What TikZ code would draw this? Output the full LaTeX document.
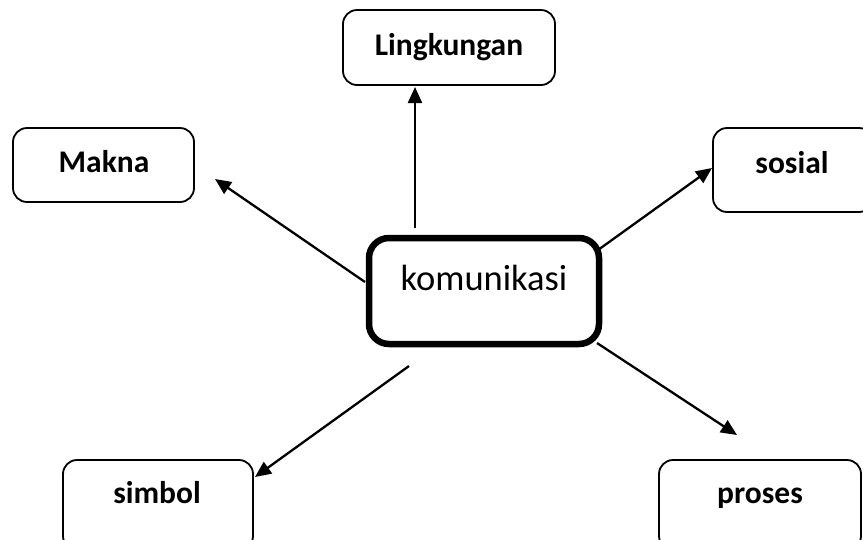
\documentclass[tikz,border=0pt]{standalone}
\usepackage{fontspec}
\setmainfont{Carlito}
\usetikzlibrary{arrows.meta}
\begin{document}
\begin{tikzpicture}[x=1pt,y=-1pt,
  smallbox/.style={draw=black,line width=1.8pt,rounded corners=14pt,inner sep=0pt},
  mainbox/.style={draw=black,line width=6.5pt,rounded corners=20pt,inner sep=0pt},
  lbl/.style={font=\fontsize{31.5}{36}\selectfont\bfseries,inner sep=0pt,anchor=base},
  mainlbl/.style={font=\fontsize{36.5}{42}\selectfont,inner sep=0pt,anchor=base},
  conn/.style={line width=2.3pt,-{Triangle[length=16pt,width=14pt]}}]
\useasboundingbox (0,0) rectangle (863,539);
\clip (0,0) rectangle (863,539);
% boxes
\node[smallbox,minimum width=212pt,minimum height=75pt] (ling) at (449,47.5) {};
\node[smallbox,minimum width=181pt,minimum height=74pt] (makna) at (103.5,165) {};
\node[smallbox,minimum width=160pt,minimum height=84pt] (sosial) at (793,170) {};
\node[mainbox,minimum width=230pt,minimum height=106pt] (kom) at (484,291) {};
\node[smallbox,minimum width=190pt,minimum height=90pt] (simbol) at (158,505) {};
\node[smallbox,minimum width=202pt,minimum height=90pt] (proses) at (760,505) {};
% labels
\node[lbl] (tling) at (449,55) {Lingkungan};
\node[lbl] (tmakna) at (104,172) {Makna};
\node[lbl] (tsosial) at (792,173) {sosial};
\node[mainlbl] (tkom) at (484,290) {komunikasi};
\node[lbl] (tsimbol) at (157,503) {simbol};
\node[lbl] (tproses) at (760,503) {proses};
% arrow end coordinates
\coordinate (aL1) at (415,228); \coordinate (aL2) at (415,87);
\coordinate (aM1) at (365,282); \coordinate (aM2) at (215,179);
\coordinate (aS1) at (598,250); \coordinate (aS2) at (712,168);
\coordinate (aB1) at (409,366); \coordinate (aB2) at (255,477);
\coordinate (aP1) at (597,343); \coordinate (aP2) at (737,435);
\draw[conn] (aL1) -- (aL2);
\draw[conn] (aM1) -- (aM2);
\draw[conn] (aS1) -- (aS2);
\draw[conn] (aB1) -- (aB2);
\draw[conn] (aP1) -- (aP2);
\end{tikzpicture}
\end{document}
